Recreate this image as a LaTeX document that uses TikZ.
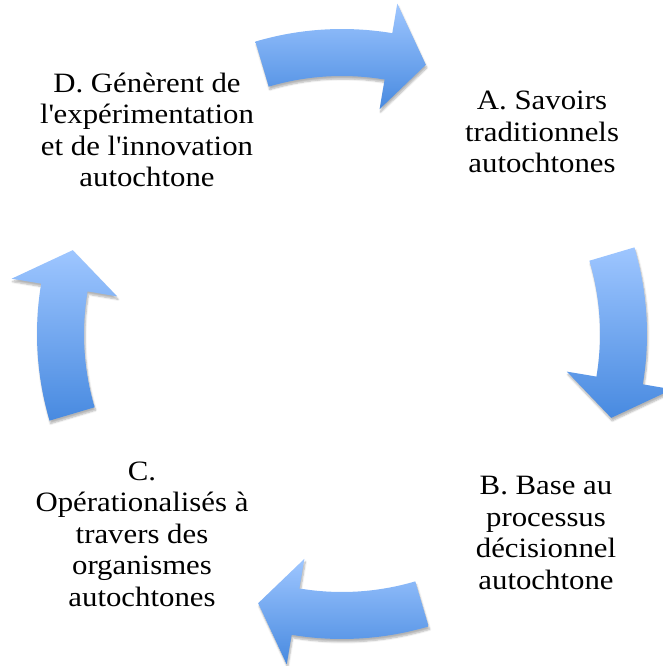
\documentclass[tikz,border=0pt]{standalone}
\usepackage{fontspec}
\setmainfont{Liberation Serif}[FakeStretch=1.1]
\usetikzlibrary{shadows.blur}
\definecolor{arrowtop}{RGB}{158,198,255}
\definecolor{arrowbottom}{RGB}{72,138,224}

\begin{document}
\begin{tikzpicture}[x=1pt, y=1pt,
    cyclearrow/.style={top color=arrowtop, bottom color=arrowbottom,
      blur shadow={shadow xshift=1pt, shadow yshift=-3pt, shadow blur steps=6, shadow opacity=30}},
    step text/.style={align=center, inner sep=0pt, font=\fontsize{28}{31.5}\selectfont}
    ]
    \useasboundingbox (-342,-332) rectangle (320,334);
    \coordinate (centre) at (0,0);
    \path[cyclearrow] (106.5:258) arc[start angle=106.5, end angle=80.5, radius=258]
      -- (80.5:228) -- (72.7:282) -- (80.5:335) -- (80.5:305)
      arc[start angle=80.5, end angle=106.5, radius=305] -- cycle;
    \path[cyclearrow] (16.5:258) arc[start angle=16.5, end angle=-9.5, radius=258]
      -- (-9.5:228) -- (-17.3:282) -- (-9.5:335) -- (-9.5:305)
      arc[start angle=-9.5, end angle=16.5, radius=305] -- cycle;
    \path[cyclearrow] (-73.5:258) arc[start angle=-73.5, end angle=-99.5, radius=258]
      -- (-99.5:228) -- (-107.3:282) -- (-99.5:335) -- (-99.5:305)
      arc[start angle=-99.5, end angle=-73.5, radius=305] -- cycle;
    \path[cyclearrow] (196.5:258) arc[start angle=196.5, end angle=170.5, radius=258]
      -- (170.5:228) -- (162.7:282) -- (170.5:335) -- (170.5:305)
      arc[start angle=170.5, end angle=196.5, radius=305] -- cycle;
    \node[step text] (savoirs) at (200,202) {A. Savoirs\\traditionnels\\autochtones};
    \node[step text] (base) at (204,-199) {B. Base au\\processus\\décisionnel\\autochtone};
    \node[step text] (organismes) at (-200,-200) {C.\\Opérationalisés à\\travers des\\organismes\\autochtones};
    \node[step text] (innovation) at (-195,204) {D. Génèrent de\\l\textquotesingle expérimentation\\et de l\textquotesingle innovation\\autochtone};
  \end{tikzpicture}
\end{document}
